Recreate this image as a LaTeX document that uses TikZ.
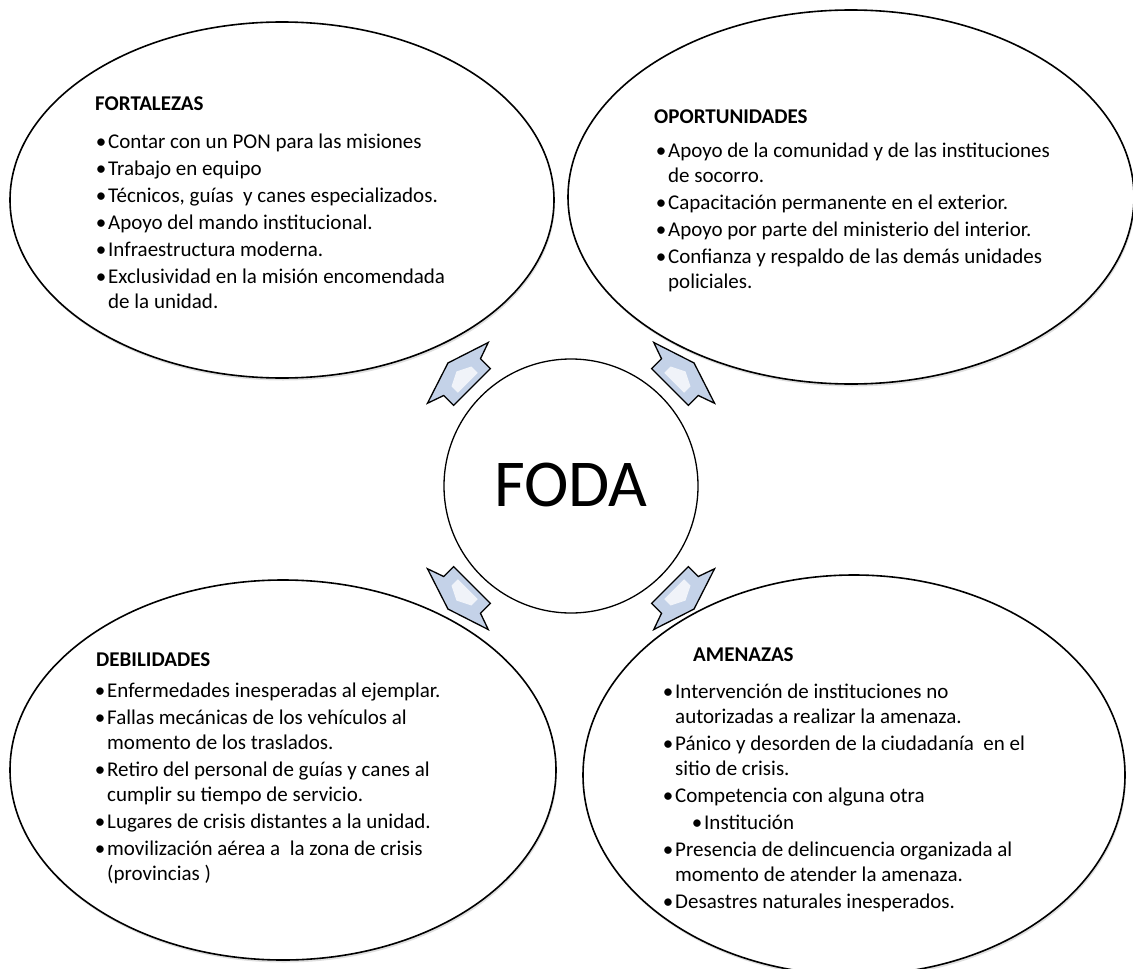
\documentclass[tikz,border=0pt]{standalone}
\usepackage{fontspec}
\setmainfont{Carlito}
\usetikzlibrary{shapes.geometric,shadows}

\definecolor{flechaazul}{RGB}{196,210,232}

\newcommand{\bu}{\makebox[14pt][c]{\textbullet}}
\newcommand{\nb}{\hspace*{14pt}}
\newcommand{\alto}{\rule{0pt}{18pt}}

\begin{document}
\begin{tikzpicture}
[
  x=1pt, y=1pt,
  elipse/.style={ellipse,draw,line width=1.6pt,fill=white,inner sep=0pt,
    drop shadow={opacity=0.25,shadow xshift=1pt,shadow yshift=-2.5pt}},
  lista/.style={anchor=north west,align=left,inner sep=0pt,
    font=\fontsize{21}{25}\selectfont},
  titulo/.style={anchor=north west,inner sep=0pt,
    font=\fontsize{21}{25}\selectfont\bfseries},
  flecha/.style={draw,line width=1.3pt,line join=miter,fill=flechaazul},
  brillo/.style={fill=white,opacity=0.75}
]
\useasboundingbox (0,0) rectangle (1133,-969);

% elipses
\node[elipse,minimum width=544,minimum height=356] (fort) at (282,-200) {};
\node[elipse,minimum width=566,minimum height=374] (opor) at (851,-197) {};
\node[elipse,minimum width=546,minimum height=380] (deb) at (283,-770) {};
\node[elipse,minimum width=542,minimum height=400] (amen) at (854,-775) {};

% centro
\node[circle,draw,line width=1.3pt,fill=white,minimum size=254,inner sep=0pt,
  font=\fontsize{67}{70}\selectfont] (foda) at (571,-486) {\raisebox{2.7pt}{FODA}};

% flechas
\foreach \ang in {45,135,225,315}{
  \begin{scope}[shift={(foda.center)},rotate=\ang-90]
    \draw[flecha] (-26,140) -- (-26,154) -- (-43,160) -- (0,174) -- (43,160) -- (26,154) -- (26,140) -- cycle;
    \fill[brillo] (-14,146) -- (-14,155) -- (0,162) -- (14,155) -- (14,146) -- cycle;
  \end{scope}
}

% fortalezas
\node[titulo] (fortTit) at (95,-92.7) {\alto FORTALEZAS};
\node[lista] (fortTxt) at (94,-130.5) {\alto\bu Contar con un PON para las misiones\\[2pt]
  \bu Trabajo en equipo\\[2pt]
  \bu Técnicos, guías\ \ y canes especializados.\\[2pt]
  \bu Apoyo del mando institucional.\\[2pt]
  \bu Infraestructura moderna.\\[2pt]
  \bu Exclusividad en la misión encomendada\\
  \nb de la unidad.};

% oportunidades
\node[titulo] (oporTit) at (654,-105.5) {\alto OPORTUNIDADES};
\node[lista] (oporTxt) at (654,-139) {\alto\bu Apoyo de la comunidad y de las instituciones\\
  \nb de socorro.\\[2pt]
  \bu Capacitación permanente en el exterior.\\[2pt]
  \bu Apoyo por parte del ministerio del interior.\\[2pt]
  \bu Confianza y respaldo de las demás unidades\\
  \nb policiales.};

% debilidades
\node[titulo] (debTit) at (96,-648.5) {\alto DEBILIDADES};
\node[lista] (debTxt) at (93,-679) {\alto\bu Enfermedades inesperadas al ejemplar.\\[2pt]
  \bu Fallas mecánicas de los vehículos al\\
  \nb momento de los traslados.\\[2pt]
  \bu Retiro del personal de guías y canes al\\
  \nb cumplir su tiempo de servicio.\\[2pt]
  \bu Lugares de crisis distantes a la unidad.\\[2pt]
  \bu movilización aérea a\ \ la zona de crisis\\
  \nb (provincias )};

% amenazas
\node[titulo] (amenTit) at (693,-643.5) {\alto AMENAZAS};
\node[lista] (amenTxt) at (661,-680) {\alto\bu Intervención de instituciones no\\
  \nb autorizadas a realizar la amenaza.\\[2pt]
  \bu Pánico y desorden de la ciudadanía\ \ en el\\
  \nb sitio de crisis.\\[2pt]
  \bu Competencia con alguna otra\\[2pt]
  \hspace*{29pt}\bu Institución\\[2pt]
  \bu Presencia de delincuencia organizada al\\
  \nb momento de atender la amenaza.\\[2pt]
  \bu Desastres naturales inesperados.};

\end{tikzpicture}
\end{document}
